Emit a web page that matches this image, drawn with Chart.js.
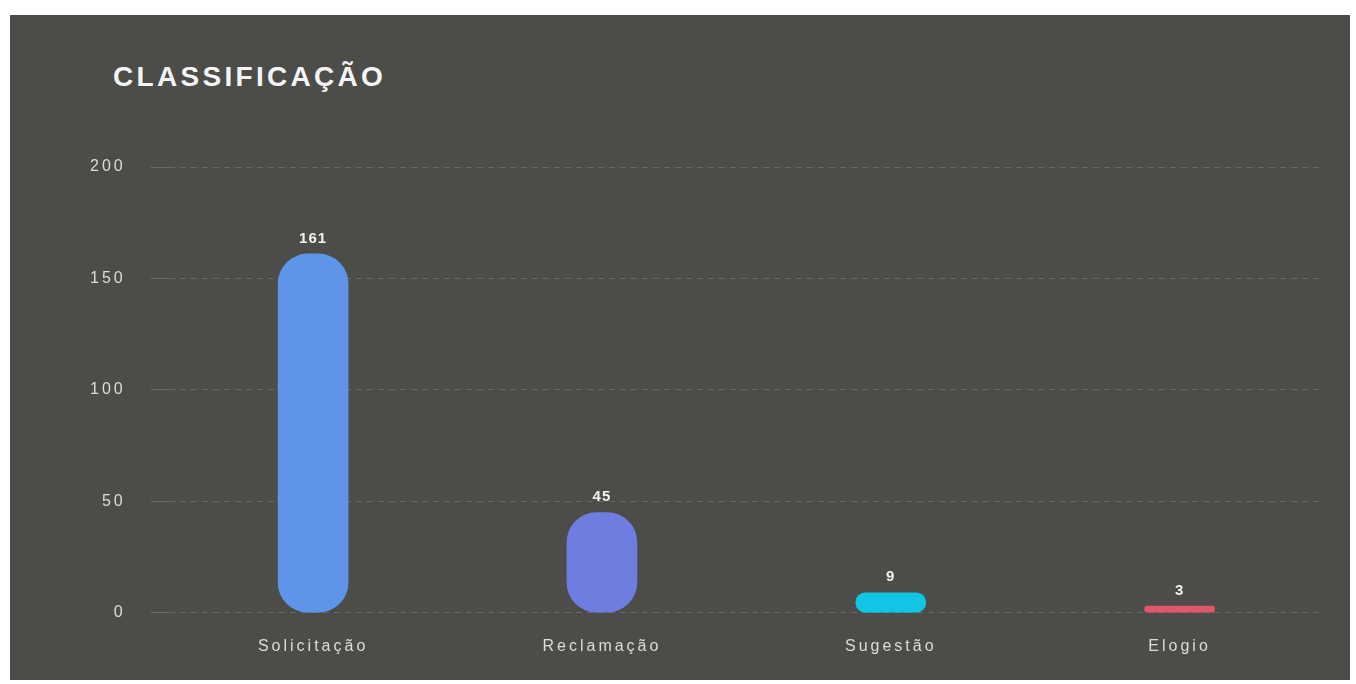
<!DOCTYPE html>
<html>
<head>
<meta charset="utf-8">
<script src="https://cdn.jsdelivr.net/npm/chart.js@4.4.0/dist/chart.umd.min.js"></script>
<style>
    html, body { margin: 0; padding: 0; background: #fff; }
    #panel {
        position: absolute; left: 10px; top: 15px; width: 1340px; height: 665px;
        background: #4c4c49;
    }
    #title {
        position: absolute; left: 103px; top: 46px;
        font-family: "Liberation Sans", Arial, sans-serif; font-weight: bold;
        font-size: 28px; color: #f4f4f4; letter-spacing: 3.3px;
    }
    #wrap { position: absolute; left: 0; top: 0; width: 1340px; height: 665px; }
</style>
</head>
<body>
<div id="panel">
    <div id="title">CLASSIFICAÇÃO</div>
    <div id="wrap"><canvas id="chart"></canvas></div>
</div>
<script>
const categories = ['Solicitação', 'Reclamação', 'Sugestão', 'Elogio'];
const values = [161, 45, 9, 3];
const barColors = ['#5f95e8', '#6f7de0', '#10c6e4', '#e0566a'];
const yTicks = [0, 50, 100, 150, 200];

// draws the number above each bar and sets letter spacing for axis text
const valueLabels = {
    id: 'valueLabels',
    beforeLayout(chart) { chart.ctx.letterSpacing = '3px'; },
    beforeDraw(chart) { chart.ctx.letterSpacing = '3px'; },
    afterDatasetsDraw(chart) {
        const ctx = chart.ctx;
        const meta = chart.getDatasetMeta(0);
        ctx.save();
        ctx.letterSpacing = '1px';
        ctx.font = 'bold 15px "Liberation Sans", Arial, sans-serif';
        ctx.fillStyle = '#f2f2f2';
        ctx.textAlign = 'center';
        ctx.textBaseline = 'bottom';
        meta.data.forEach((bar, i) => {
            ctx.fillText(values[i], bar.x, bar.y - 8);
        });
        ctx.restore();
    }
};

new Chart(document.getElementById('chart'), {
    type: 'bar',
    data: {
        labels: categories,
        datasets: [{
            data: values,
            backgroundColor: barColors,
            borderRadius: 30,
            borderSkipped: false,
            barThickness: 70
        }]
    },
    options: {
        responsive: true,
        maintainAspectRatio: false,
        animation: false,
        layout: { padding: { left: 55, right: 26, top: 152, bottom: 0 } },
        plugins: {
            legend: { display: false },
            tooltip: { enabled: false }
        },
        scales: {
            x: {
                grid: { display: false, drawTicks: false },
                border: { display: false },
                ticks: {
                    color: '#dcdcdc',
                    padding: 24,
                    font: { family: '"Liberation Sans", Arial, sans-serif', size: 16 }
                }
            },
            y: {
                min: yTicks[0],
                max: yTicks[yTicks.length - 1],
                afterBuildTicks(axis) { axis.ticks = yTicks.map(v => ({ value: v })); },
                border: { display: false, dash: [6, 5] },
                grid: {
                    color: 'rgba(255,255,255,0.16)',
                    tickLength: 18,
                    drawTicks: true
                },
                ticks: {
                    color: '#dcdcdc',
                    padding: 25,
                    font: { family: '"Liberation Sans", Arial, sans-serif', size: 16 }
                }
            }
        }
    },
    plugins: [valueLabels]
});
</script>
</body>
</html>
